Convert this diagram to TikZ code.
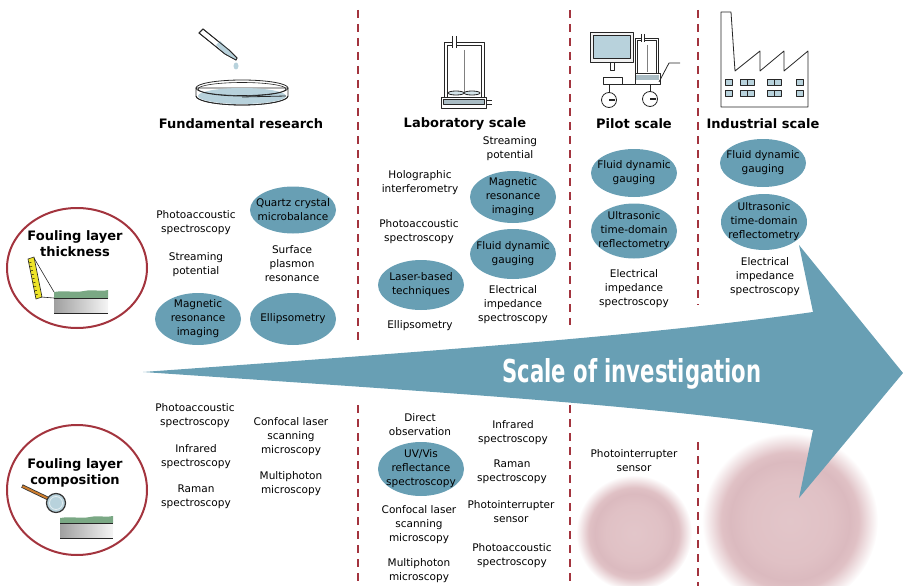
\documentclass[tikz,border=0pt]{standalone}
\usepackage{fontspec}
\setmainfont{DejaVu Sans}
\newfontfamily\bannerfont{DejaVu Sans Condensed}
\usetikzlibrary{positioning,shapes.geometric,calc}

\definecolor{scaleblue}{RGB}{104,159,180}
\definecolor{framered}{RGB}{163,52,62}
\definecolor{hazepink}{RGB}{224,193,197}
\definecolor{hazering}{RGB}{219,186,191}
\definecolor{iconblue}{RGB}{184,210,220}
\definecolor{foulgreen}{RGB}{122,168,132}
\definecolor{rulery}{RGB}{238,228,40}
\definecolor{handlebrown}{RGB}{205,125,45}

\pgfdeclareradialshading{haze}{\pgfpoint{0bp}{0bp}}{color(0bp)=(hazepink!92!white); color(12bp)=(hazepink); color(17bp)=(hazering); color(19.5bp)=(hazepink); color(25bp)=(white); color(50bp)=(white)}

\begin{document}
\begin{tikzpicture}[x=1pt,y=-1pt,
      txt/.style={align=center, inner sep=0pt, font=\fontsize{10.5}{14}\selectfont},
      head/.style={align=center, inner sep=0pt, font=\fontsize{13}{16}\selectfont\bfseries},
      tech/.style={ellipse, fill=scaleblue, minimum width=86pt, minimum height=50pt, inner sep=0pt, label={[txt]center:{#1}}},
      aspect/.style={ellipse, draw=framered, line width=2pt, minimum width=140pt, inner sep=0pt},
      divider/.style={framered, line width=2.6pt, dash pattern=on 8pt off 6pt},
      icon/.style={draw=black!85, line width=0.8pt, line join=round}
    ]
    \useasboundingbox (0,0) rectangle (903,586);

    \shade[shading=haze] (634,533) circle (58);
    \shade[shading=haze] (790,521) circle (88);

    \fill[scaleblue] (143,372) .. controls (450,350) and (650,335) .. (813,312)
      -- (799,245) -- (903,373) -- (799,498) -- (813,430)
      .. controls (650,405) and (450,393) .. (143,372) -- cycle;
    \node[text=white, inner sep=0pt, anchor=base] (scale) at (632,382)
      {\resizebox{259pt}{24pt}{\bannerfont\bfseries Scale of investigation}};

    \coordinate (d1a) at (358,10);  \coordinate (d1b) at (358,345);
    \coordinate (d1c) at (358,405); \coordinate (d1d) at (358,586);
    \coordinate (d2a) at (570,10);  \coordinate (d2b) at (570,325);
    \coordinate (d2c) at (570,405); \coordinate (d2d) at (570,586);
    \coordinate (d3a) at (698,10);  \coordinate (d3b) at (698,305);
    \coordinate (d3c) at (698,442); \coordinate (d3d) at (698,586);
    \foreach \n in {1,2,3} {
      \draw[divider] (d\n a) -- (d\n b);
      \draw[divider] (d\n c) -- (d\n d);
    }

    % petri dish and pipette
    \filldraw[icon, fill=white] (199,33) -- (203,29) -- (229,50) -- (237,58) -- (236,60) -- (225,54) -- cycle;
    \fill[iconblue] (216,45) -- (220,41) -- (229,50) -- (237,58) -- (236,60) -- (225,54) -- cycle;
    \draw[icon] (199,33) -- (203,29) -- (229,50) -- (237,58) -- (236,60) -- (225,54) -- cycle;
    \fill[iconblue] (236,66) ellipse[x radius=2.5, y radius=3.5];
    \filldraw[icon, fill=white] (196,88) -- (196,96) arc[start angle=180, end angle=0, x radius=46, y radius=9] -- (288,88) -- cycle;
    \fill[iconblue] (242,96) ellipse[x radius=44, y radius=8];
    \draw[icon] (196,96) arc[start angle=180, end angle=0, x radius=46, y radius=9];
    \draw[icon] (242,88) ellipse[x radius=46, y radius=8];
    \draw[icon, line width=0.6pt] (242,89) ellipse[x radius=44, y radius=6.5];
    \draw[icon] (242,97) -- (286,96);

    % stirred vessel
    \draw[icon] (444,97) -- (444,42) -- (452,42) (456,42) -- (484,42) -- (484,97);
    \draw[icon] (447,97) -- (447,45) -- (452,45) (456,45) -- (481,45) -- (481,97);
    \draw[icon] (452,36) -- (452,48) (456,36) -- (456,48);
    \draw[gray, line width=1pt] (464,50) -- (464,92);
    \draw[icon, fill=iconblue!60!white] (456,93) ellipse[x radius=8, y radius=2] (472,93) ellipse[x radius=8, y radius=2];
    \draw[icon] (441,97) rectangle (486,108);
    \filldraw[icon, fill=iconblue!75!gray] (443,99) rectangle (484,104);
    \draw[icon] (486,100) -- (492,100) (486,104) -- (492,104);

    % pilot rig
    \filldraw[icon, fill=gray!10] (590,32) rectangle (633,62);
    \filldraw[icon, fill=iconblue] (593,35) rectangle (630,58);
    \draw[icon] (610,62) rectangle (614,70);
    \filldraw[icon, fill=white] (603,77) rectangle (622,84);
    \draw[icon] (635,73) -- (635,38) -- (641,38) (644,38) -- (658,38) -- (658,73);
    \draw[icon] (637,73) -- (637,40) -- (641,40) (644,40) -- (656,40) -- (656,73);
    \draw[icon] (641,34) -- (641,42) (644,34) -- (644,42);
    \draw[gray, line width=1pt] (647,45) -- (647,72);
    \draw[icon] (635,73) rectangle (660,84);
    \fill[iconblue!75!gray] (636,75) rectangle (659,80);
    \draw[icon] (659,82) -- (669,63) -- (680,63);
    \draw[icon] (622,84) -- (635,84);
    \draw[icon] (609,84) -- (609,93) (650,84) -- (650,92);
    \draw[icon, fill=white] (609,100) circle (7.5) (650,99) circle (7.5);
    \draw[icon, line width=1.2pt] (609,100) -- (615,100) (650,99) -- (656,99);

    % factory
    \draw[icon, fill=white] (721,107) -- (721,12) -- (731,12) -- (735,71) -- (760,51) -- (760,71)
      -- (784,51) -- (784,71) -- (808,51) -- (808,107) -- cycle;
    \foreach \x in {725,740,747,767,774,796}
      \foreach \y in {79,90}
        \draw[icon, fill=iconblue] (\x,\y) rectangle +(7,6);

    \node[head] (fund) at (241,124) {Fundamental research};
    \node[head] (lab) at (465,124) {Laboratory scale};
    \node[head] (pilot) at (634,124) {Pilot scale};
    \node[head] (ind) at (763,124) {Industrial scale};

    % fouling layer aspects
    \node[aspect, minimum height=120pt] (thick) at (77,268) {};
    \node[head] (thicklbl) at (75,244) {Fouling layer\\thickness};
    \fill[foulgreen] (54,298) -- (54,292) .. controls (66,290) and (74,293) .. (84,291)
      .. controls (94,289) and (100,292) .. (108,290) -- (108,298) -- cycle;
    \shade[left color=gray!75, right color=gray!8] (54,298) rectangle (108,313);
    \draw[black!85] (54,298) -- (108,298) (54,313) -- (108,313);
    \filldraw[icon, line width=0.6pt, fill=rulery] (28,259) -- (34,257) -- (42,297) -- (36,299) -- cycle;
    \foreach \t in {0.1,0.2,...,0.9}
      \draw[line width=0.4pt] ($(28,259)!\t!(36,299)$) -- ($(30.5,258.3)!\t!(38.5,298.3)$);
    \draw[black!85, line width=0.6pt] (34,258) -- (54,292) (41,297) -- (54,298);

    \node[aspect, minimum height=130pt] (comp) at (77,490) {};
    \node[head] (complbl) at (75,473) {Fouling layer\\composition};
    \fill[foulgreen] (60,523) -- (60,518) .. controls (72,516) and (80,519) .. (90,517)
      .. controls (100,515) and (106,518) .. (113,516) -- (113,523) -- cycle;
    \shade[left color=gray!75, right color=gray!8] (60,523) rectangle (113,538);
    \draw[black!85] (60,523) -- (113,523) (60,538) -- (113,538);
    \draw[black!80, line width=3.6pt] (22,486) -- (49,499);
    \draw[handlebrown, line width=2pt] (22.5,486.3) -- (48.5,498.7);
    \filldraw[fill=iconblue, draw=black!80, line width=1.2pt] (56,503) circle (9.5);
    \draw[white!60!iconblue, line width=0.8pt] (56,503) circle (6.5);

    % fundamental research, thickness
    \node[txt] (pas1) at (196,223) {Photoaccoustic\\spectroscopy};
    \node[tech={Quartz crystal\\microbalance}, minimum height=47pt] (qcm) at (293,210) {};
    \node[txt] (sp1) at (196,265) {Streaming\\potential};
    \node[txt] (spr) at (292,264) {Surface\\plasmon\\resonance};
    \node[tech={Magnetic\\resonance\\imaging}, minimum height=52pt] (mri1) at (198,319) {};
    \node[tech={Ellipsometry}, minimum height=52pt] (ell1) at (293,319) {};

    % laboratory scale, thickness
    \node[txt] (sp2) at (510,149) {Streaming\\potential};
    \node[txt] (holo) at (420,183) {Holographic\\interferometry};
    \node[tech={Magnetic\\resonance\\imaging}, minimum height=52pt] (mri2) at (513,197) {};
    \node[txt] (pas2) at (419,232) {Photoaccoustic\\spectroscopy};
    \node[tech={Fluid dynamic\\gauging}] (fdg1) at (513,254) {};
    \node[tech={Laser-based\\techniques}] (laser) at (421,285) {};
    \node[txt] (eis1) at (513,305) {Electrical\\impedance\\spectroscopy};
    \node[txt] (ell2) at (420,326) {Ellipsometry};

    % pilot and industrial scale, thickness
    \node[tech={Fluid dynamic\\gauging}, minimum height=48pt] (fdg2) at (634,173) {};
    \node[tech={Ultrasonic\\time-domain\\reflectometry}, minimum height=55pt] (utdr1) at (634,231) {};
    \node[txt] (eis2) at (634,289) {Electrical\\impedance\\spectroscopy};
    \node[tech={Fluid dynamic\\gauging}, minimum height=48pt] (fdg3) at (763,163) {};
    \node[tech={Ultrasonic\\time-domain\\reflectometry}, minimum height=56pt] (utdr2) at (764,222) {};
    \node[txt] (eis3) at (765,277) {Electrical\\impedance\\spectroscopy};

    % composition
    \node[txt] (pas3) at (195,416) {Photoaccoustic\\spectroscopy};
    \node[txt] (ir1) at (196,457) {Infrared\\spectroscopy};
    \node[txt] (ram1) at (196,497) {Raman\\spectroscopy};
    \node[txt] (cls1) at (291,437) {Confocal laser\\scanning\\microscopy};
    \node[txt] (mpm1) at (291,484) {Multiphoton\\microscopy};

    \node[txt] (dobs) at (420,425) {Direct\\observation};
    \node[tech={UV/Vis\\reflectance\\spectroscopy}, minimum height=54pt] (uvvis) at (421,469) {};
    \node[txt] (cls2) at (419,525) {Confocal laser\\scanning\\microscopy};
    \node[txt] (mpm2) at (419,571) {Multiphoton\\microscopy};
    \node[txt] (ir2) at (513,433) {Infrared\\spectroscopy};
    \node[txt] (ram2) at (512,472) {Raman\\spectroscopy};
    \node[txt] (pis1) at (511,512) {Photointerrupter\\sensor};
    \node[txt] (pas4) at (512,556) {Photoaccoustic\\spectroscopy};

    \node[txt] (pis2) at (634,461) {Photointerrupter\\sensor};
  \end{tikzpicture}
\end{document}
